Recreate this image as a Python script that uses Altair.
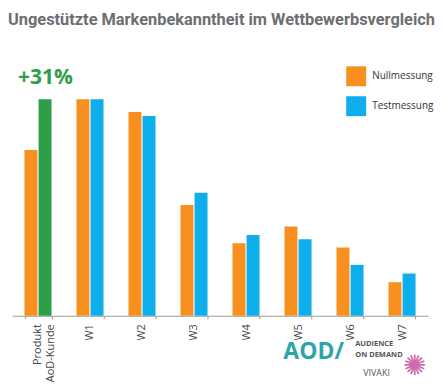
import altair as alt
import pandas as pd

groups = ["Produkt AoD-Kunde", "W1", "W2", "W3", "W4", "W5", "W6", "W7"]
nullmessung = [76.5, 100, 94.1, 51.2, 33.5, 41.2, 31.5, 15.5]
testmessung = [100, 100, 92.2, 56.8, 37.3, 35.3, 23.5, 19.5]
series_names = ["Nullmessung", "Testmessung"]
colors = ["#F7901E", "#0DAEEB"]
highlight_color = "#2E9E48"
title_text = "Ungestützte Markenbekanntheit im Wettbewerbsvergleich"
uplift_text = "+31%"

rows = []
for g, n, t in zip(groups, nullmessung, testmessung):
    rows.append({"group": g, "series": series_names[0], "value": n})
    rows.append({"group": g, "series": series_names[1], "value": t})
df = pd.DataFrame(rows)
one = pd.DataFrame({"k": [0]})

W, H = 417, 217

bars = alt.Chart(df).mark_bar().encode(
    x=alt.X("group:N", sort=groups,
            scale=alt.Scale(paddingInner=0.48, paddingOuter=0.24),
            axis=alt.Axis(title=None, labelAngle=-90, tickBand="extent",
                          domainColor="#9a9a9a", tickColor="#9a9a9a", tickSize=3,
                          labelColor="#444", labelFontSize=11, labelFont="Open Sans",
                          labelPadding=5, labelLineHeight=13,
                          labelExpr="datum.value == 'Produkt AoD-Kunde' ? ['Produkt', 'AoD-Kunde'] : datum.value")),
    xOffset=alt.XOffset("series:N", scale=alt.Scale(paddingInner=0.08, paddingOuter=0)),
    y=alt.Y("value:Q", scale=alt.Scale(domain=[0, 100]), axis=None),
    color=alt.condition(
        "datum.group == 'Produkt AoD-Kunde' && datum.series == 'Testmessung'",
        alt.value(highlight_color),
        alt.Color("series:N", scale=alt.Scale(domain=series_names, range=colors),
                  legend=alt.Legend(title=None, orient="none", legendX=335, legendY=-33,
                                    symbolType="square", symbolSize=400, symbolStrokeWidth=0,
                                    labelFontSize=10, labelFont="Open Sans", labelColor="#333",
                                    rowPadding=10, labelOffset=6)),
    ),
)

def txt(text, x, y, **kw):
    return alt.Chart(one).mark_text(text=text, **kw).encode(x=alt.value(x), y=alt.value(y))

title = txt(title_text, -4, -79, align="left", baseline="middle", fontSize=16.4,
            fontWeight="bold", font="Roboto", color="#6d6e71")
uplift = txt(uplift_text, 6, -21, align="left", baseline="middle", fontSize=21,
             fontWeight="bold", font="Open Sans", color=highlight_color)
logo_aod = txt("AOD/", 272, 253, align="left", baseline="middle", fontSize=23,
               fontWeight="bold", font="Open Sans", color="#2aa6a8")
logo_a = txt("AUDIENCE", 344, 245.5, align="left", baseline="middle", fontSize=7.5,
             fontWeight="bold", font="Open Sans", color="#555")
logo_b = txt("ON DEMAND", 344, 256.5, align="left", baseline="middle", fontSize=7.5,
             fontWeight="bold", font="Open Sans", color="#555")
logo_c = txt("VIVAKI", 352, 274, align="left", baseline="middle", fontSize=9,
             font="Open Sans", color="#555")
logo_d = txt("✺", 403, 268, align="center", baseline="middle", fontSize=28,
             color="#c0479a", opacity=0.8)

chart = alt.layer(bars, title, uplift, logo_aod, logo_a, logo_b, logo_c, logo_d).properties(
    width=W, height=H,
    padding={"left": 4, "top": 91, "right": 10, "bottom": 72},
    autosize=alt.AutoSizeParams(type="none"),
    background="white",
).configure_view(stroke=None)

chart.save("out.html", embed_options={"renderer": "svg", "actions": False})
